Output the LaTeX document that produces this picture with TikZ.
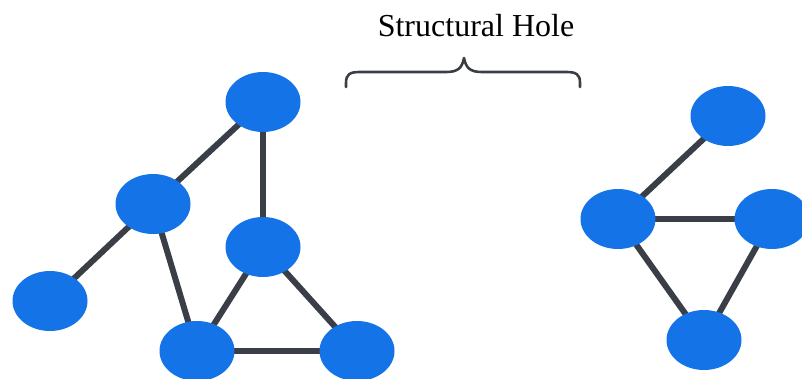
\documentclass[tikz,border=0pt]{standalone}
\usepackage{fontspec}
\setmainfont{Liberation Serif}
\usetikzlibrary{shapes.geometric,backgrounds}
\definecolor{nodeblue}{HTML}{1473E6}
\definecolor{edgegray}{HTML}{3A3F47}
\tikzset{
  vert/.style={ellipse, fill=nodeblue, draw=none, minimum width=75pt, minimum height=60pt, inner sep=0pt},
  link/.style={draw=edgegray, line width=6pt},
  bracepath/.style={draw=edgegray, line width=2.6pt, line cap=round, line join=round}
}
\begin{document}
\begin{tikzpicture}[x=1pt,y=-1pt]
\useasboundingbox (0,0) rectangle (802,379);
\clip (0,0) rectangle (802,379);
% nodes
\node[vert] (A) at (263,102) {};
\node[vert] (B) at (153,204) {};
\node[vert] (C) at (263,247) {};
\node[vert] (D) at (50,301) {};
\node[vert] (E) at (197,351) {};
\node[vert] (F) at (357,351) {};
\node[vert] (G) at (728,116) {};
\node[vert] (H) at (618,219) {};
\node[vert] (I) at (772,219) {};
\node[vert] (J) at (704,340) {};
% edges behind nodes
\begin{scope}[on background layer]
\draw[link] (A.center) -- (B.center);
\draw[link] (A.center) -- (C.center);
\draw[link] (B.center) -- (D.center);
\draw[link] (B.center) -- (E.center);
\draw[link] (C.center) -- (E.center);
\draw[link] (C.center) -- (F.center);
\draw[link] (E.center) -- (F.center);
\draw[link] (G.center) -- (H.center);
\draw[link] (H.center) -- (I.center);
\draw[link] (H.center) -- (J.center);
\draw[link] (I.center) -- (J.center);
\end{scope}
% brace
\coordinate (bl) at (346,87);
\coordinate (br) at (580,87);
\coordinate (bt) at (464,58);
\draw[bracepath] (bl) -- (346,83) .. controls (346,74) and (350,72) .. (360,72)
  -- (446,72) .. controls (458,72) and (462,68) .. (bt)
  .. controls (466,68) and (470,72) .. (482,72) -- (566,72)
  .. controls (576,72) and (580,74) .. (580,83) -- (br);
\node[font=\fontsize{32}{36}\selectfont, anchor=base, inner sep=0pt] (title) at (476,37) {Structural Hole};
\end{tikzpicture}
\end{document}
